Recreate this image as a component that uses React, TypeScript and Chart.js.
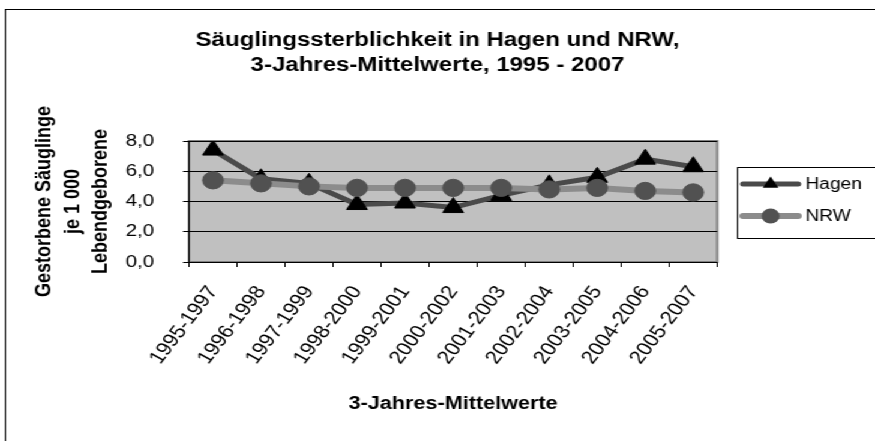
import React, { useEffect, useRef } from 'react';
import { Chart, registerables } from 'chart.js';

Chart.register(...registerables);

// ---- data ----
const categories = [
  '1995-1997', '1996-1998', '1997-1999', '1998-2000', '1999-2001', '2000-2002',
  '2001-2003', '2002-2004', '2003-2005', '2004-2006', '2005-2007',
];
const hagenValues = [7.4, 5.5, 5.2, 3.8, 3.9, 3.6, 4.4, 5.1, 5.6, 6.8, 6.3];
const nrwValues = [5.4, 5.2, 5.0, 4.9, 4.9, 4.9, 4.9, 4.8, 4.9, 4.7, 4.6];
const seriesNames = ['Hagen', 'NRW'];
const titleLines = ['Säuglingssterblichkeit in Hagen und NRW,', '3-Jahres-Mittelwerte, 1995 - 2007'];
const yTitleLines = ['Gestorbene Säuglinge', 'je 1 000', 'Lebendgeborene'];
const xTitle = '3-Jahres-Mittelwerte';
const yMin = 0;
const yMax = 8;
const yStep = 2;

// ---- layout (logical canvas is stretched horizontally to 875px) ----
const OUT_W = 875;
const H = 441;
const W = 729;
const SX = OUT_W / W;

const HAGEN_LINE = '#4a4a4a';
const NRW_LINE = '#8c8c8c';
const NRW_MARK = '#515151';

const decorPlugin = {
  id: 'decor',
  beforeDraw(chart: any) {
    const { ctx, chartArea } = chart;
    ctx.save();
    ctx.fillStyle = '#ffffff';
    ctx.fillRect(0, 0, chart.width, chart.height);
    // outer frame
    ctx.strokeStyle = '#000';
    ctx.lineWidth = 1;
    ctx.strokeRect(4.5, 9.5, chart.width + 20, chart.height + 20);
    // plot area
    ctx.fillStyle = '#c0c0c0';
    ctx.fillRect(chartArea.left, chartArea.top, chartArea.right - chartArea.left, chartArea.bottom - chartArea.top);
    ctx.strokeStyle = '#808080';
    ctx.lineWidth = 2;
    ctx.strokeRect(chartArea.left, chartArea.top, chartArea.right - chartArea.left, chartArea.bottom - chartArea.top);
    ctx.restore();
  },
  afterDraw(chart: any) {
    const { ctx } = chart;
    ctx.save();
    // legend box
    ctx.strokeStyle = '#000';
    ctx.lineWidth = 1;
    ctx.strokeRect(614.5, 167.5, 140, 71);
    const rows = [
      { name: seriesNames[0], y: 184, line: HAGEN_LINE, lw: 5, mark: 'triangle', fill: '#000' },
      { name: seriesNames[1], y: 216, line: NRW_LINE, lw: 6, mark: 'circle', fill: NRW_MARK },
    ];
    for (const r of rows) {
      ctx.strokeStyle = r.line;
      ctx.lineWidth = r.lw;
      ctx.lineCap = 'round';
      ctx.beginPath();
      ctx.moveTo(619, r.y);
      ctx.lineTo(665, r.y);
      ctx.stroke();
      ctx.fillStyle = r.fill;
      ctx.beginPath();
      const cx = 642;
      if (r.mark === 'triangle') {
        const rad = 7.5;
        ctx.moveTo(cx, r.y - rad);
        ctx.lineTo(cx + rad * 0.866, r.y + rad / 2);
        ctx.lineTo(cx - rad * 0.866, r.y + rad / 2);
        ctx.closePath();
      } else {
        ctx.arc(cx, r.y, 7.5, 0, Math.PI * 2);
      }
      ctx.fill();
      ctx.fillStyle = '#000';
      ctx.font = "16px 'Liberation Sans', Arial, sans-serif";
      ctx.textBaseline = 'middle';
      ctx.textAlign = 'left';
      ctx.fillText(r.name, 671, r.y + 1);
    }
    ctx.restore();
  },
};

export default function App() {
  const ref = useRef<HTMLCanvasElement | null>(null);

  useEffect(() => {
    if (!ref.current) return;
    Chart.defaults.font.family = "'Liberation Sans', Arial, sans-serif";
    Chart.defaults.color = '#000';
    const chart = new Chart(ref.current, {
      type: 'line',
      data: {
        labels: categories,
        datasets: [
          {
            label: seriesNames[0],
            data: hagenValues,
            order: 1,
            borderColor: HAGEN_LINE,
            borderWidth: 5,
            tension: 0,
            pointStyle: 'triangle',
            pointRadius: 10,
            pointBackgroundColor: '#000',
            pointBorderColor: '#000',
            pointBorderWidth: 1,
          },
          {
            label: seriesNames[1],
            data: nrwValues,
            order: 0,
            borderColor: NRW_LINE,
            borderWidth: 6,
            tension: 0,
            pointStyle: 'circle',
            pointRadius: 8.6,
            pointBackgroundColor: NRW_MARK,
            pointBorderColor: NRW_MARK,
            pointBorderWidth: 1,
          },
        ],
      },
      options: {
        responsive: false,
        animation: false,
        devicePixelRatio: 1,
        events: [],
        layout: { padding: 0 },
        plugins: {
          legend: { display: false },
          tooltip: { enabled: false },
          title: {
            display: true,
            text: titleLines,
            color: '#000',
            font: { size: 20, weight: 'bold', lineHeight: 1.25 },
            padding: { top: 27.5, bottom: 63.5 },
          },
        },
        scales: {
          x: {
            type: 'category',
            offset: true,
            grid: {
              offset: true,
              drawOnChartArea: false,
              drawTicks: true,
              tickLength: 5,
              color: '#000',
            },
            border: { display: true, color: '#000', width: 1 },
            ticks: {
              autoSkip: false,
              minRotation: 57,
              maxRotation: 57,
              padding: 15,
              font: { size: 18.5 },
              color: '#000',
            },
            title: {
              display: true,
              text: xTitle,
              color: '#000',
              font: { size: 18, weight: 'bold', lineHeight: 1.2 },
              padding: { top: 0, bottom: 26 },
            },
            afterFit: (scale: any) => {
              scale.height = H - 262;
            },
          },
          y: {
            min: yMin,
            max: yMax,
            grid: { color: '#000', lineWidth: 1, tickLength: 5, drawTicks: true },
            border: { display: true, color: '#000', width: 1 },
            ticks: {
              stepSize: yStep,
              padding: 24,
              font: { size: 17 },
              color: '#000',
              callback: (v: any) => Number(v).toFixed(1).replace('.', ','),
            },
            title: {
              display: true,
              text: yTitleLines,
              color: '#000',
              font: { size: 18, weight: 'bold', lineHeight: 1.3 },
              padding: { top: 25.8, bottom: 0 },
            },
            afterFit: (scale: any) => {
              scale.width = 157.5;
            },
          },
          // empty right-hand box reserving the legend's space (keeps the title centred on the full width)
          legendSpace: {
            type: 'linear',
            position: 'right',
            display: true,
            grid: { display: false, drawOnChartArea: false, drawTicks: false },
            border: { display: false },
            ticks: { display: false },
            afterFit: (scale: any) => {
              scale.width = W - 597.5;
            },
          },
        },
      },
      plugins: [decorPlugin],
    });
    return () => chart.destroy();
  }, []);

  return (
    <div
      style={{
        position: 'fixed',
        left: 0,
        top: 0,
        width: W,
        height: H,
        transform: `scaleX(${SX})`,
        transformOrigin: '0 0',
        background: '#fff',
      }}
    >
      <canvas ref={ref} width={W} height={H} style={{ display: 'block', width: W, height: H }} />
    </div>
  );
}
